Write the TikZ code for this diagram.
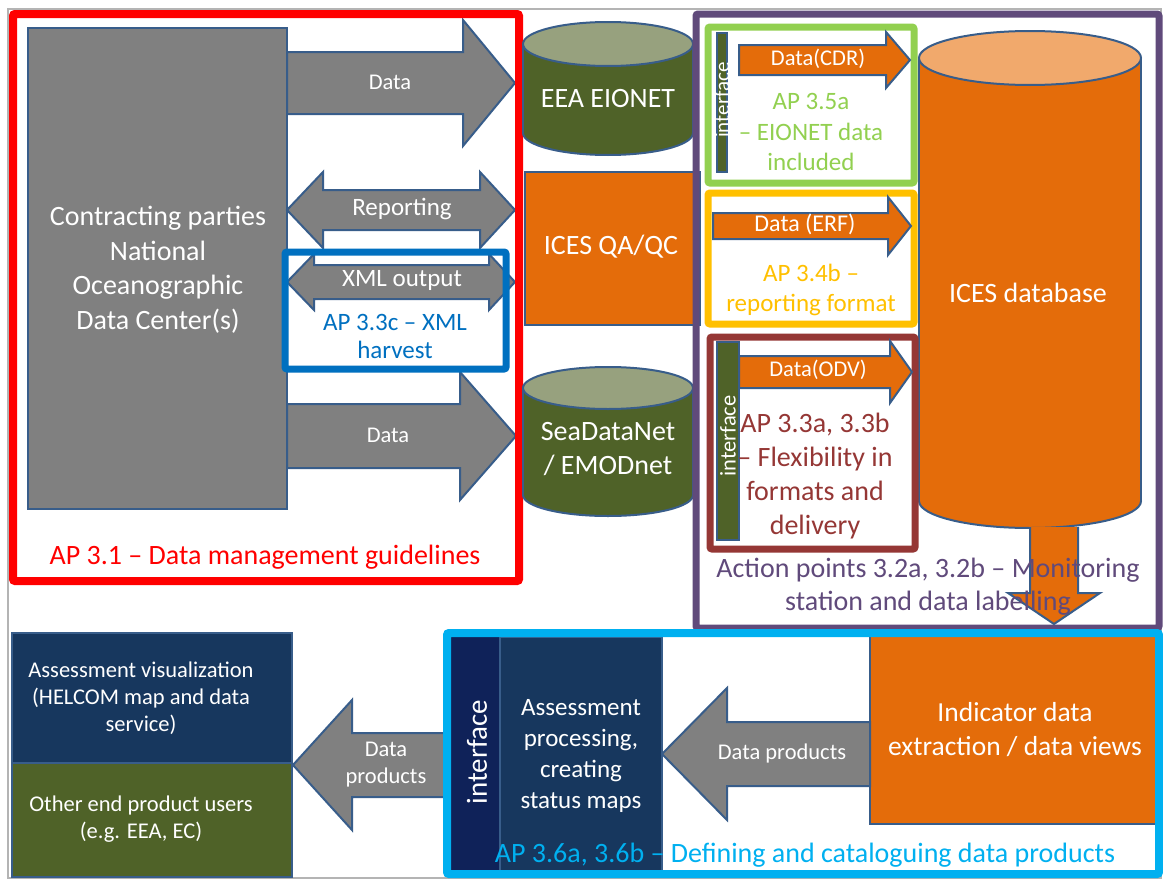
\documentclass[tikz,border=0pt]{standalone}
\usepackage{fontspec}
\setmainfont{Carlito}
\usepackage{xcolor}
\usetikzlibrary{positioning}
\definecolor{edgeblue}{HTML}{385D8A}
\definecolor{boxgray}{HTML}{808080}
\definecolor{framegray}{HTML}{B4B4B4}
\definecolor{olive}{HTML}{4F6228}
\definecolor{olivetop}{HTML}{97A17E}
\definecolor{icesorange}{HTML}{E46C0A}
\definecolor{orangetop}{HTML}{F1A96C}
\definecolor{navy}{HTML}{17375E}
\definecolor{deepnavy}{HTML}{0F2259}
\definecolor{apred}{HTML}{FF0000}
\definecolor{apblue}{HTML}{0070C0}
\definecolor{apgreen}{HTML}{92D050}
\definecolor{apyellow}{HTML}{FFC000}
\definecolor{apdarkred}{HTML}{953735}
\definecolor{appurple}{HTML}{604A7B}
\definecolor{apcyan}{HTML}{00B0F0}

% block arrow: style, tail x, head base x, tip x, centre y, shaft half, head half
\newcommand{\blockarrow}[7]{%
  \draw[#1] (#2,#5-#6) -- (#3,#5-#6) -- (#3,#5-#7) -- (#4,#5)
    -- (#3,#5+#7) -- (#3,#5+#6) -- (#2,#5+#6) -- cycle;}
% double block arrow: style, left tip, left base, right base, right tip, centre y, shaft half, head half
\newcommand{\twinarrow}[8]{%
  \draw[#1] (#2,#6) -- (#3,#6-#8) -- (#3,#6-#7) -- (#4,#6-#7) -- (#4,#6-#8)
    -- (#5,#6) -- (#4,#6+#8) -- (#4,#6+#7) -- (#3,#6+#7) -- (#3,#6+#8) -- cycle;}
% drum: body colour, top colour, centre x, x radius, top y, bottom y, y radius
\newcommand{\drum}[7]{%
  \draw[edge, fill=#1] (#3,#6) ellipse [x radius=#4, y radius=#7];
  \fill[#1] (#3-#4,#5) rectangle (#3+#4,#6);
  \draw[edge] (#3-#4,#5) -- (#3-#4,#6) (#3+#4,#5) -- (#3+#4,#6);
  \draw[edge, fill=#2] (#3,#5) ellipse [x radius=#4, y radius=#7];}

\begin{document}
\begin{tikzpicture}[x=1bp, y=-1bp,
    edge/.style={draw=edgeblue, line width=2bp, line join=miter},
    apframe/.style={line width=7bp, rounded corners=2bp},
    t28/.style={font=\fontsize{28bp}{34.5bp}\selectfont, align=center, inner sep=0pt},
    t25/.style={font=\fontsize{25bp}{30.5bp}\selectfont, align=center, inner sep=0pt},
    t22/.style={font=\fontsize{22.5bp}{27bp}\selectfont, align=center, inner sep=0pt},
    tbar/.style={font=\fontsize{21bp}{25bp}\selectfont, rotate=90, inner sep=0pt, text=white}]
  \useasboundingbox (0,0) rectangle (1163,880);
  \fill[white] (0,0) rectangle (1163,880);
  % slide frame
  \draw[framegray, line width=2.5bp] (8,9) rectangle (1161,878);

  % Contracting parties and their flows
  \draw[edge, fill=boxgray] (28,28) rectangle (287,509);
  \node[t28, text=white] (parties) at (158,270)
    {Contracting parties\\National\\Oceanographic\\Data Center(s)};
  \blockarrow{edge, fill=boxgray}{287}{463}{515}{83}{31}{63}
  \node[t22, text=white] (dataeea) at (390,82) {Data};
  \twinarrow{edge, fill=boxgray}{287}{323}{480}{515}{210}{20}{38}
  \node[t25, text=white] (reporting) at (402,209) {Reporting};
  \twinarrow{edge, fill=boxgray}{287}{314}{489}{515}{282}{17}{28}
  \node[t25, text=white] (xmlout) at (402,280) {XML output};
  \blockarrow{edge, fill=boxgray}{287}{460}{516}{436}{32}{64}
  \node[t22, text=white] (datasdn) at (388,435) {Data};

  % XML harvest
  \draw[apframe, apblue] (285,252) rectangle (506,369);
  \node[t25, text=apblue, font=\fontsize{25bp}{28bp}\selectfont] (xmlap) at (395,336)
    {AP 3.3c -- XML\\harvest};

  % data management guidelines
  \draw[apframe, apred, line width=8bp] (13,14) rectangle (519,581);
  \node[t28, text=apred] (guideap) at (265,557) {AP 3.1 -- Data management guidelines};

  % receiving systems
  \drum{olive}{olivetop}{608}{85}{44}{133}{22}
  \node[t28, text=white] (eionet) at (608,99) {EEA EIONET};
  \draw[edge, fill=icesorange] (525,172) rectangle (700,325);
  \node[t28, text=white] (qaqc) at (611,247) {ICES QA/QC};
  \drum{olive}{olivetop}{608}{85}{388}{495}{21}
  \node[t28, text=white] (seadatanet) at (608,449) {SeaDataNet\\/ EMODnet};

  % ICES database
  \drum{icesorange}{orangetop}{1030}{111}{58}{501}{27}
  \node[t28, text=white] (icesdb) at (1028,293) {ICES database};

  % EIONET interface
  \draw[apframe, apgreen] (708,27) rectangle (914,183);
  \draw[edge, fill=olive] (717,33) rectangle (727,172);
  \node[tbar] (ifeionet) at (722,100) {interface};
  \blockarrow{edge, fill=icesorange}{739}{886}{910}{60}{15}{28}
  \node[t22, text=white] (datacdr) at (818,59) {Data(CDR)};
  \node[t25, text=apgreen] (eionetap) at (811,132) {AP 3.5a\\-- EIONET data\\included};

  % reporting format
  \draw[apframe, apyellow] (708,193) rectangle (914,324);
  \blockarrow{edge, fill=icesorange}{713}{888}{911}{226}{13}{29}
  \node[t22, text=white, font=\fontsize{24bp}{28bp}\selectfont] (dataerf) at (805,224) {Data (ERF)};
  \node[t25, text=apyellow] (formatap) at (811,290) {AP 3.4b --\\reporting format};

  % ODV interface
  \draw[apframe, apdarkred] (710,337) rectangle (915,549);
  \draw[edge, fill=olive] (717,342) rectangle (739,540);
  \node[tbar, font=\fontsize{22.5bp}{27bp}\selectfont] (ifodv) at (728,436) {interface};
  \blockarrow{edge, fill=icesorange}{739}{890}{912}{372}{16}{31}
  \node[t22, text=white] (dataodv) at (818,370) {Data(ODV)};
  \node[t28, text=apdarkred, font=\fontsize{28bp}{34bp}\selectfont] (flexap) at (815,476)
    {AP 3.3a, 3.3b\\-- Flexibility in\\formats and\\delivery};

  % monitoring station and data labelling
  \draw[apframe, appurple] (696,14) rectangle (1159,628);
  \draw[edge, fill=icesorange] (1030,527) -- (1030,593) -- (1008,593) -- (1054,624)
    -- (1100,593) -- (1078,593) -- (1078,527);
  \node[t28, text=appurple, font=\fontsize{28bp}{33bp}\selectfont] (labelap) at (928,587)
    {Action points 3.2a, 3.2b -- Monitoring\\station and data labelling};

  % data products
  \draw[edge, fill=navy] (12,633) rectangle (292,763);
  \node[t22, text=white] (visual) at (141,698)
    {Assessment visualization\\(HELCOM map and data\\service)};
  \draw[edge, fill=olive] (12,763) rectangle (292,877);
  \node[t22, text=white] (endusers) at (141,819) {Other end product users\\(e.g. EEA, EC)};
  \blockarrow{edge, fill=boxgray}{447}{352}{293}{765}{32}{65}
  \node[t22, text=white] (productsout) at (386,765) {Data\\products};

  \fill[deepnavy] (450,637) rectangle (500,873);
  \draw[edge, fill=navy] (500,637) rectangle (662,873);
  \node[tbar, font=\fontsize{29bp}{34bp}\selectfont] (ifproducts) at (477,752) {interface};
  \node[t25, text=white, font=\fontsize{25bp}{31bp}\selectfont] (processing) at (581,756)
    {Assessment\\processing,\\creating\\status maps};
  \draw[edge, fill=icesorange] (870,636) rectangle (1158,824);
  \node[t28, text=white, font=\fontsize{27.5bp}{34bp}\selectfont] (indicator) at (1015,730)
    {Indicator data\\extraction / data views};
  \blockarrow{edge, fill=boxgray}{870}{727}{662}{754}{32}{66}
  \node[t22, text=white] (productsmid) at (782,753) {Data products};
  \draw[apframe, apcyan, line width=8bp] (447,633) rectangle (1159,874);
  \node[t28, text=apcyan] (productsap) at (805,855)
    {AP 3.6a, 3.6b -- Defining and cataloguing data products};
\end{tikzpicture}
\end{document}
